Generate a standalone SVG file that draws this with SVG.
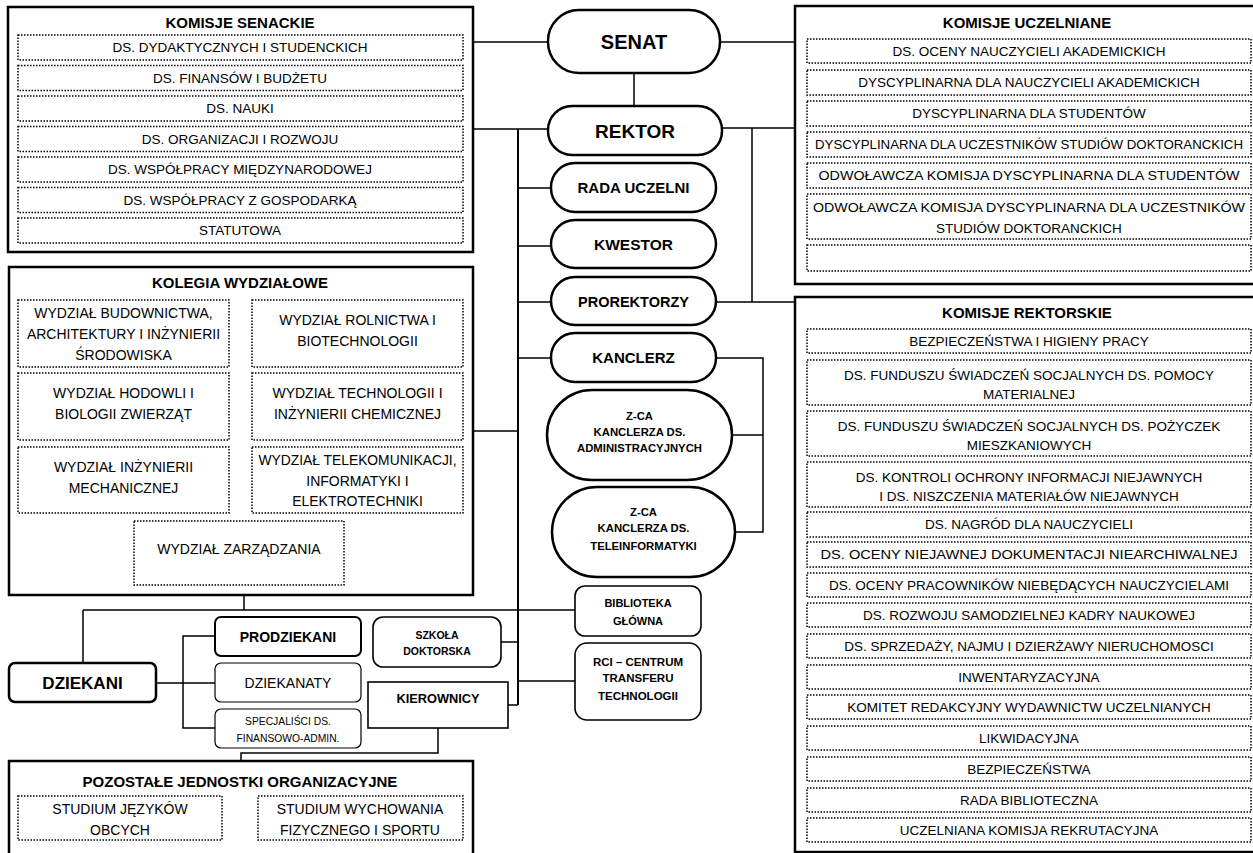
<svg xmlns="http://www.w3.org/2000/svg" width="1253" height="853" viewBox="0 0 1253 853">
<style>
.box{fill:#fff;stroke:#000;stroke-width:2.5}
.dot{fill:#fff;stroke:#000;stroke-width:1.5;stroke-dasharray:1.5 1.5}
.pill{fill:#fff;stroke:#000;stroke-width:2.5}
.rr{fill:#fff;stroke:#000;stroke-width:1.6}
.ln{fill:none;stroke:#000;stroke-width:1.5}
.tr{fill:none;stroke:#000;stroke-width:2}
text{font-family:"Liberation Sans",Arial,sans-serif;text-anchor:middle;fill:#000}
.t{font-size:13.5px}
.k{font-size:14px}
.h{font-size:15px;font-weight:bold}
.b{font-weight:bold}
</style>
<rect width="1253" height="853" fill="#fff"/>
<g id="connectors">
<path class="ln" d="M473,42H548M720,42H795M634,73V106M473,129H548M722,128H795M752,128V302M716,302H795"/>
<path class="tr" d="M518,129V705"/>
<path class="ln" d="M518,188H551M518,246H551M518,302H551M518,358H551M473,431H518"/>
<path class="ln" d="M716,358H763V532H735M732,435H763"/>
<path class="ln" d="M244,595V610M83,610H575M83,610V663M501,642H518M518,681H575M508,705H518"/>
<path class="ln" d="M156,683H215M215,636H183V728H215M438,728V753H241V761"/>
</g>
<g id="komisje-senackie">
<rect class="box" x="8" y="7" width="465" height="245"/>
<text class="h" x="240" y="27.5">KOMISJE SENACKIE</text>
<rect class="dot" x="18" y="35" width="445" height="25"/><text class="t" x="240" y="52.3">DS. DYDAKTYCZNYCH I STUDENCKICH</text>
<rect class="dot" x="18" y="65.5" width="445" height="25"/><text class="t" x="240" y="82.8">DS. FINANSÓW I BUDŻETU</text>
<rect class="dot" x="18" y="96" width="445" height="25"/><text class="t" x="240" y="113.3">DS. NAUKI</text>
<rect class="dot" x="18" y="126.5" width="445" height="25"/><text class="t" x="240" y="143.8">DS. ORGANIZACJI I ROZWOJU</text>
<rect class="dot" x="18" y="157" width="445" height="25"/><text class="t" x="240" y="174.3">DS. WSPÓŁPRACY MIĘDZYNARODOWEJ</text>
<rect class="dot" x="18" y="187.5" width="445" height="25"/><text class="t" x="240" y="204.8">DS. WSPÓŁPRACY Z GOSPODARKĄ</text>
<rect class="dot" x="18" y="218" width="445" height="25"/><text class="t" x="240" y="235.3">STATUTOWA</text>
</g>
<g id="kolegia-wydzialowe">
<rect class="box" x="9" y="267" width="464" height="328"/>
<text class="h" x="240" y="287.5">KOLEGIA WYDZIAŁOWE</text>
<rect class="dot" x="18" y="300" width="211" height="67"/>
<text class="k" x="123.5" y="318">WYDZIAŁ BUDOWNICTWA,</text><text class="k" x="123.5" y="339">ARCHITEKTURY I INŻYNIERII</text><text class="k" x="123.5" y="360">ŚRODOWISKA</text>
<rect class="dot" x="252" y="300" width="211" height="67"/>
<text class="k" x="357.5" y="325">WYDZIAŁ ROLNICTWA I</text><text class="k" x="357.5" y="346">BIOTECHNOLOGII</text>
<rect class="dot" x="18" y="373" width="211" height="67"/>
<text class="k" x="123.5" y="398">WYDZIAŁ HODOWLI I</text><text class="k" x="123.5" y="419">BIOLOGII ZWIERZĄT</text>
<rect class="dot" x="252" y="373" width="211" height="67"/>
<text class="k" x="357.5" y="398">WYDZIAŁ TECHNOLOGII I</text><text class="k" x="357.5" y="419">INŻYNIERII CHEMICZNEJ</text>
<rect class="dot" x="18" y="447" width="211" height="66"/>
<text class="k" x="123.5" y="472">WYDZIAŁ INŻYNIERII</text><text class="k" x="123.5" y="493">MECHANICZNEJ</text>
<rect class="dot" x="252" y="447" width="211" height="66"/>
<text class="k" x="357.5" y="465" textLength="198" lengthAdjust="spacingAndGlyphs">WYDZIAŁ TELEKOMUNIKACJI,</text><text class="k" x="357.5" y="486">INFORMATYKI I</text><text class="k" x="357.5" y="506">ELEKTROTECHNIKI</text>
<rect class="dot" x="134" y="521" width="210" height="64"/>
<text class="k" x="239" y="554">WYDZIAŁ ZARZĄDZANIA</text>
</g>
<g id="pozostale">
<rect class="box" x="9" y="761" width="464" height="120"/>
<text class="h" x="240" y="786.5">POZOSTAŁE JEDNOSTKI ORGANIZACYJNE</text>
<rect class="dot" x="18" y="796" width="204" height="44"/>
<text class="k" x="120" y="814">STUDIUM JĘZYKÓW</text><text class="k" x="120" y="835">OBCYCH</text>
<rect class="dot" x="258" y="796" width="205" height="44"/>
<text class="k" x="360" y="814">STUDIUM WYCHOWANIA</text><text class="k" x="360" y="835">FIZYCZNEGO I SPORTU</text>
</g>
<g id="senat"><rect class="pill" x="548" y="10" width="172" height="63" rx="31"/><text class="b" style="font-size:20px" x="634" y="49">SENAT</text></g>
<g id="rektor"><rect class="pill" x="548" y="106" width="174" height="49" rx="24"/><text class="b" style="font-size:19px" x="635" y="137.5">REKTOR</text></g>
<g id="rada-uczelni"><rect class="pill" x="551" y="163" width="165" height="49" rx="24"/><text class="b" style="font-size:15px" x="633.5" y="193">RADA UCZELNI</text></g>
<g id="kwestor"><rect class="pill" x="551" y="220" width="165" height="48" rx="24"/><text class="b" style="font-size:15.5px" x="633.5" y="249.5">KWESTOR</text></g>
<g id="prorektorzy"><rect class="pill" x="551" y="277" width="165" height="48" rx="24"/><text class="b" style="font-size:14.5px" x="633.5" y="306.5">PROREKTORZY</text></g>
<g id="kanclerz"><rect class="pill" x="551" y="333" width="165" height="49" rx="24"/><text class="b" style="font-size:15px" x="633.5" y="363">KANCLERZ</text></g>
<g id="zca-admin"><rect class="pill" x="547" y="390" width="185" height="90" rx="45"/>
<text class="b" style="font-size:11.3px" x="639.5" y="420">Z-CA</text><text class="b" style="font-size:11.3px" x="639.5" y="436">KANCLERZA DS.</text><text class="b" style="font-size:11.3px" x="639.5" y="452">ADMINISTRACYJNYCH</text></g>
<g id="zca-tele"><rect class="pill" x="552" y="487" width="183" height="90" rx="45"/>
<text class="b" style="font-size:11.3px" x="643.5" y="516">Z-CA</text><text class="b" style="font-size:11.3px" x="643.5" y="532">KANCLERZA DS.</text><text class="b" style="font-size:11.3px" x="643.5" y="550">TELEINFORMATYKI</text></g>
<g id="biblioteka"><rect class="rr" x="575" y="586" width="126" height="50" rx="10"/>
<text class="b" style="font-size:11px" x="638" y="607">BIBLIOTEKA</text><text class="b" style="font-size:11px" x="638" y="625">GŁÓWNA</text></g>
<g id="rci"><rect class="rr" x="575" y="643" width="126" height="77" rx="12"/>
<text class="b" style="font-size:11.5px" x="638" y="666">RCI – CENTRUM</text><text class="b" style="font-size:11.5px" x="638" y="682">TRANSFERU</text><text class="b" style="font-size:11.5px" x="638" y="700">TECHNOLOGII</text></g>
<g id="szkola-doktorska"><rect class="rr" x="373" y="617" width="128" height="50" rx="10"/>
<text class="b" style="font-size:10.5px" x="437" y="639">SZKOŁA</text><text class="b" style="font-size:10.5px" x="437" y="655">DOKTORSKA</text></g>
<g id="kierownicy"><rect class="rr" x="368" y="682" width="140" height="46"/><text class="b" style="font-size:12.8px" x="438" y="703">KIEROWNICY</text></g>
<g id="dziekani"><rect class="pill" x="9" y="663" width="147" height="39" rx="6"/><text class="b" style="font-size:17px" x="82.5" y="689">DZIEKANI</text></g>
<g id="prodziekani"><rect class="rr" style="stroke-width:2" x="215" y="617" width="146" height="39" rx="6"/><text class="b" style="font-size:14px" x="288" y="641.5">PRODZIEKANI</text></g>
<g id="dziekanaty"><rect class="rr" style="stroke-width:1.2" x="215" y="663" width="146" height="39" rx="6"/><text style="font-size:14px" x="288" y="687.5">DZIEKANATY</text></g>
<g id="specjalisci"><rect class="rr" style="stroke-width:1.2" x="215" y="709" width="146" height="39" rx="6"/>
<text style="font-size:10.3px" x="288" y="725">SPECJALIŚCI DS.</text><text style="font-size:10.3px" x="288" y="742">FINANSOWO-ADMIN.</text></g>
<g id="komisje-uczelniane">
<rect class="box" x="795" y="6" width="470" height="278"/>
<text class="h" x="1027" y="27.5">KOMISJE UCZELNIANE</text>
<rect class="dot" x="807" y="39" width="444" height="24"/><text class="t" x="1029" y="55.8">DS. OCENY NAUCZYCIELI AKADEMICKICH</text>
<rect class="dot" x="807" y="70" width="444" height="25"/><text class="t" x="1029" y="87.3">DYSCYPLINARNA DLA NAUCZYCIELI AKADEMICKICH</text>
<rect class="dot" x="807" y="101" width="444" height="25"/><text class="t" x="1029" y="118.3">DYSCYPLINARNA DLA STUDENTÓW</text>
<rect class="dot" x="807" y="132" width="444" height="25"/><text class="t" x="1029" y="149.3" textLength="428" lengthAdjust="spacingAndGlyphs">DYSCYPLINARNA DLA UCZESTNIKÓW STUDIÓW DOKTORANCKICH</text>
<rect class="dot" x="807" y="163" width="444" height="25"/><text class="t" x="1029" y="180.3" textLength="421" lengthAdjust="spacingAndGlyphs">ODWOŁAWCZA KOMISJA DYSCYPLINARNA DLA STUDENTÓW</text>
<rect class="dot" x="807" y="194" width="444" height="45"/><text class="t" x="1029" y="212" textLength="432" lengthAdjust="spacingAndGlyphs">ODWOŁAWCZA KOMISJA DYSCYPLINARNA DLA UCZESTNIKÓW</text><text class="t" x="1029" y="233">STUDIÓW DOKTORANCKICH</text>
<rect class="dot" x="807" y="245" width="444" height="26"/>
</g>
<g id="komisje-rektorskie">
<rect class="box" x="795" y="297" width="470" height="555"/>
<text class="h" x="1027" y="317.5">KOMISJE REKTORSKIE</text>
<rect class="dot" x="807" y="329" width="444" height="24"/><text class="t" x="1029" y="345.8">BEZPIECZEŃSTWA I HIGIENY PRACY</text>
<rect class="dot" x="807" y="360" width="444" height="45"/><text class="t" x="1029" y="380">DS. FUNDUSZU ŚWIADCZEŃ SOCJALNYCH DS. POMOCY</text><text class="t" x="1029" y="399">MATERIALNEJ</text>
<rect class="dot" x="807" y="411" width="444" height="45"/><text class="t" x="1029" y="431">DS. FUNDUSZU ŚWIADCZEŃ SOCJALNYCH DS. POŻYCZEK</text><text class="t" x="1029" y="450">MIESZKANIOWYCH</text>
<rect class="dot" x="807" y="462" width="444" height="45"/><text class="t" x="1029" y="482">DS. KONTROLI OCHRONY INFORMACJI NIEJAWNYCH</text><text class="t" x="1029" y="501">I DS. NISZCZENIA MATERIAŁÓW NIEJAWNYCH</text>
<rect class="dot" x="807" y="512" width="444" height="25"/><text class="t" x="1029" y="529.3">DS. NAGRÓD DLA NAUCZYCIELI</text>
<rect class="dot" x="807" y="542" width="444" height="25"/><text class="t" x="1029" y="559.3" textLength="417" lengthAdjust="spacingAndGlyphs">DS. OCENY NIEJAWNEJ DOKUMENTACJI NIEARCHIWALNEJ</text>
<rect class="dot" x="807" y="573" width="444" height="24"/><text class="t" x="1029" y="589.8" textLength="400" lengthAdjust="spacingAndGlyphs">DS. OCENY PRACOWNIKÓW NIEBĘDĄCYCH NAUCZYCIELAMI</text>
<rect class="dot" x="807" y="603" width="444" height="24"/><text class="t" x="1029" y="619.8">DS. ROZWOJU SAMODZIELNEJ KADRY NAUKOWEJ</text>
<rect class="dot" x="807" y="634" width="444" height="24"/><text class="t" x="1029" y="650.8">DS. SPRZEDAŻY, NAJMU I DZIERŻAWY NIERUCHOMOSCI</text>
<rect class="dot" x="807" y="665" width="444" height="24"/><text class="t" x="1029" y="681.8">INWENTARYZACYJNA</text>
<rect class="dot" x="807" y="695" width="444" height="24"/><text class="t" x="1029" y="711.8">KOMITET REDAKCYJNY WYDAWNICTW UCZELNIANYCH</text>
<rect class="dot" x="807" y="726" width="444" height="24"/><text class="t" x="1029" y="742.8">LIKWIDACYJNA</text>
<rect class="dot" x="807" y="757" width="444" height="24"/><text class="t" x="1029" y="773.8">BEZPIECZEŃSTWA</text>
<rect class="dot" x="807" y="788" width="444" height="24"/><text class="t" x="1029" y="804.8">RADA BIBLIOTECZNA</text>
<rect class="dot" x="807" y="818" width="444" height="24"/><text class="t" x="1029" y="834.8">UCZELNIANA KOMISJA REKRUTACYJNA</text>
</g>
</svg>
